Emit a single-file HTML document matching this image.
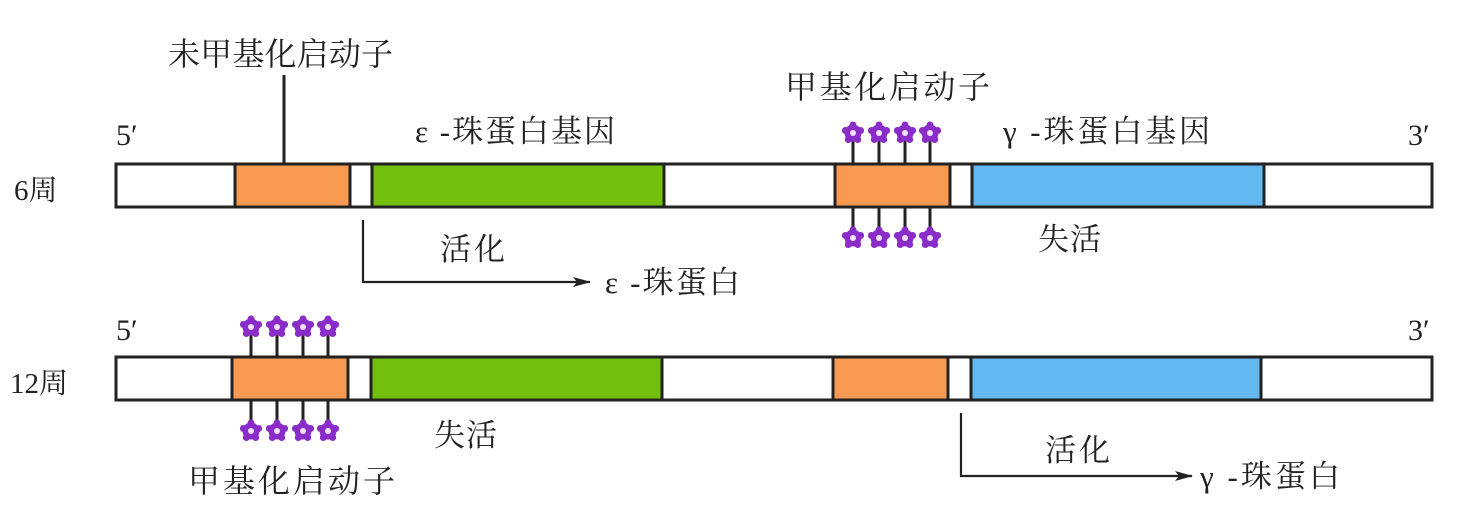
<!DOCTYPE html>
<html><head><meta charset="utf-8"><style>
html,body{margin:0;padding:0;background:#fff;}
svg{display:block;}
text{font-family:"Liberation Serif","Noto Serif CJK SC",serif;fill:#222;}
</style></head><body>
<svg width="1460" height="524" viewBox="0 0 1460 524" xmlns="http://www.w3.org/2000/svg">
<defs>
<g id="m"><circle r="8.5" fill="#8a2cc8"/><circle cx="0" cy="-8" r="3.5" fill="#8a2cc8"/><circle cx="7.6" cy="-2.5" r="3.5" fill="#8a2cc8"/><circle cx="4.7" cy="6.5" r="3.5" fill="#8a2cc8"/><circle cx="-4.7" cy="6.5" r="3.5" fill="#8a2cc8"/><circle cx="-7.6" cy="-2.5" r="3.5" fill="#8a2cc8"/><circle r="3" fill="#f4e0ff"/></g>
<marker id="a" markerWidth="18" markerHeight="12" refX="17" refY="6" orient="auto" markerUnits="userSpaceOnUse"><path d="M0,1 L18,6 L0,11 L4,6Z" fill="#222"/></marker>
</defs>
<g stroke="#222" stroke-width="3">
<rect x="116" y="164" width="1316" height="43" fill="#fff"/>
<rect x="235" y="164" width="115" height="43" fill="#f99a53"/>
<rect x="372" y="164" width="292" height="43" fill="#72bf0e"/>
<rect x="835" y="164" width="115" height="43" fill="#f99a53"/>
<rect x="972" y="164" width="292" height="43" fill="#63b8ef"/>
<line x1="284" y1="75" x2="284" y2="164"/>
<line x1="853" y1="133" x2="853" y2="164"/><line x1="879" y1="133" x2="879" y2="164"/><line x1="905" y1="133" x2="905" y2="164"/><line x1="930" y1="133" x2="930" y2="164"/>
<line x1="853" y1="207" x2="853" y2="237"/><line x1="879" y1="207" x2="879" y2="237"/><line x1="905" y1="207" x2="905" y2="237"/><line x1="930" y1="207" x2="930" y2="237"/>
<polyline points="363,220 363,282 590,282" fill="none" stroke-width="2.2" marker-end="url(#a)"/>
</g>
<use href="#m" x="853" y="133"/><use href="#m" x="879" y="133"/><use href="#m" x="905" y="133"/><use href="#m" x="930" y="133"/>
<use href="#m" x="853" y="238"/><use href="#m" x="879" y="238"/><use href="#m" x="905" y="238"/><use href="#m" x="930" y="238"/>
<text x="168" y="65" font-size="32" textLength="225">未甲基化启动子</text>
<text x="785" y="98" font-size="32" textLength="205">甲基化启动子</text>
<text x="116" y="145" font-size="30">5′</text>
<text x="1408" y="145" font-size="30">3′</text>
<text x="415" y="142" font-size="31" textLength="200">ε -珠蛋白基因</text>
<text x="1003" y="142" font-size="31" textLength="207">γ -珠蛋白基因</text>
<text x="14" y="200" font-size="29">6周</text>
<text x="440" y="260" font-size="31" textLength="65">活化</text>
<text x="605" y="293" font-size="31" textLength="135">ε -珠蛋白</text>
<text x="1038" y="250" font-size="31" textLength="63">失活</text>
<g stroke="#222" stroke-width="3">
<rect x="116" y="357" width="1316" height="43" fill="#fff"/>
<rect x="232" y="357" width="116" height="43" fill="#f99a53"/>
<rect x="371" y="357" width="291" height="43" fill="#72bf0e"/>
<rect x="833" y="357" width="115" height="43" fill="#f99a53"/>
<rect x="971" y="357" width="290" height="43" fill="#63b8ef"/>
<line x1="251" y1="327" x2="251" y2="357"/><line x1="277" y1="327" x2="277" y2="357"/><line x1="303" y1="327" x2="303" y2="357"/><line x1="328" y1="327" x2="328" y2="357"/>
<line x1="251" y1="400" x2="251" y2="430"/><line x1="277" y1="400" x2="277" y2="430"/><line x1="303" y1="400" x2="303" y2="430"/><line x1="328" y1="400" x2="328" y2="430"/>
<polyline points="961,413 961,476 1192,476" fill="none" stroke-width="2.2" marker-end="url(#a)"/>
</g>
<use href="#m" x="251" y="327"/><use href="#m" x="277" y="327"/><use href="#m" x="303" y="327"/><use href="#m" x="328" y="327"/>
<use href="#m" x="251" y="431"/><use href="#m" x="277" y="431"/><use href="#m" x="303" y="431"/><use href="#m" x="328" y="431"/>
<text x="116" y="340" font-size="30">5′</text>
<text x="1408" y="340" font-size="30">3′</text>
<text x="10" y="393" font-size="29">12周</text>
<text x="434" y="446" font-size="31" textLength="63">失活</text>
<text x="188" y="492" font-size="32" textLength="207">甲基化启动子</text>
<text x="1045" y="461" font-size="31" textLength="65">活化</text>
<text x="1200" y="487" font-size="31" textLength="140">γ -珠蛋白</text>
</svg>
</body></html>
